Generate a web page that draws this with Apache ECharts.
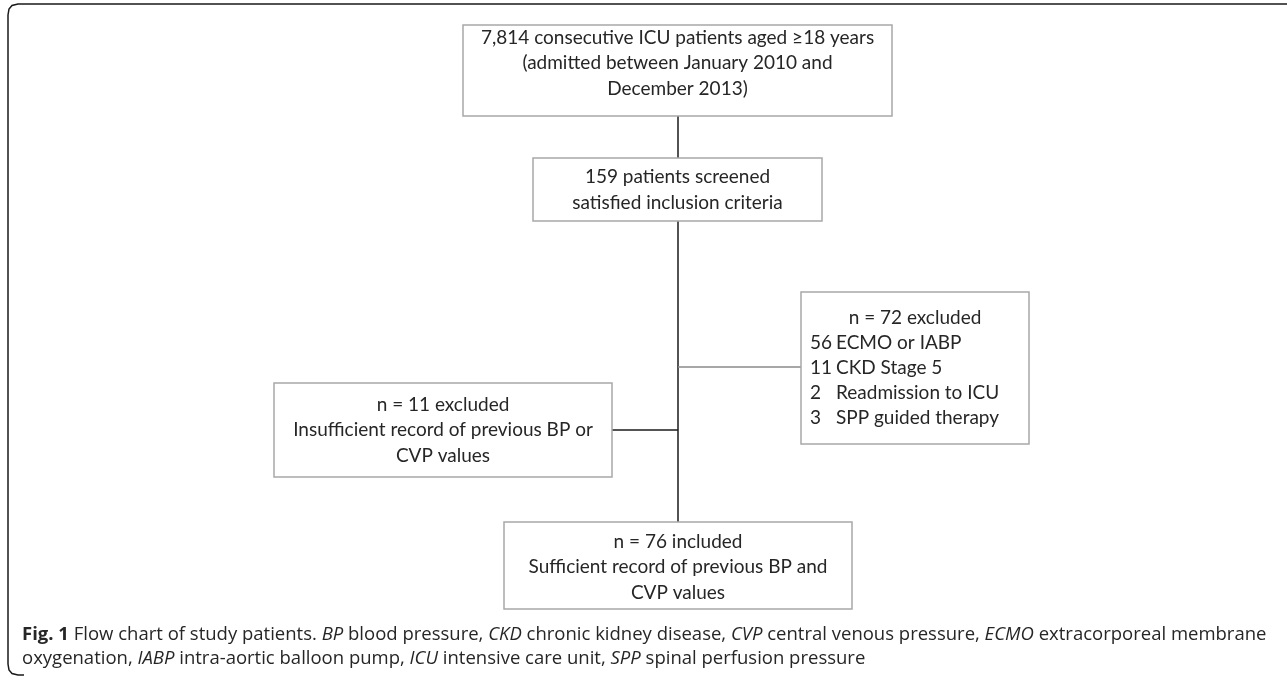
<!DOCTYPE html>
<html>
<head>
<meta charset="utf-8">
<script src="https://cdn.jsdelivr.net/npm/echarts@6/dist/echarts.min.js"></script>
<style>
  html, body { margin: 0; padding: 0; background: #fff; }
  #main { width: 1287px; height: 680px; }
</style>
</head>
<body>
<div id="main"></div>
<script>
  // box texts, top to bottom
  const screenedText = ['7,814 consecutive ICU patients aged \u226518 years', '(admitted between January 2010 and', 'December 2013)']
  const eligibleText = ['159 patients screened', 'satisfied inclusion criteria']
  const leftExcludedText = ['n = 11 excluded', 'Insufficient record of previous BP or', 'CVP values']
  const rightExcludedTitle = 'n = 72 excluded'
  const exclusionCounts = [56, 11, 2, 3]
  const exclusionReasons = ['ECMO or IABP', 'CKD Stage 5', 'Readmission to ICU', 'SPP guided therapy']
  const includedText = ['n = 76 included', 'Sufficient record of previous BP and', 'CVP values']
  const captionLine1 = '{b|Fig. 1} Flow chart of study patients. {i|BP} blood pressure, {i|CKD} chronic kidney disease, {i|CVP} central venous pressure, {i|ECMO} extracorporeal membrane'
  const captionLine2 = 'oxygenation, {i|IABP} intra-aortic balloon pump, {i|ICU} intensive care unit, {i|SPP} spinal perfusion pressure'

  const boxFont = '19px Lato, sans-serif'
  const textColor = '#262626'
  const lineH = 25.5

  const elements = []

  function box(x, y, w, h) {
    elements.push({
      type: 'rect',
      shape: { x: x, y: y, width: w, height: h },
      style: { fill: '#fff', stroke: '#a8a8a8', lineWidth: 1.5 },
      z: 2
    })
  }
  function line(x1, y1, x2, y2, color) {
    elements.push({
      type: 'line',
      shape: { x1: x1, y1: y1, x2: x2, y2: y2 },
      style: { stroke: color || '#1a1a1a', lineWidth: 1.5 },
      z: 1
    })
  }
  function centeredLines(lines, cx, cy) {
    const top = cy - (lines.length - 1) * lineH / 2
    lines.forEach((t, i) => {
      elements.push({
        type: 'text',
        style: { text: t, x: cx, y: top + i * lineH, font: boxFont, fill: textColor, align: 'center', verticalAlign: 'middle' },
        z: 3
      })
    })
  }

  // connectors
  line(678, 116, 678, 522)
  line(612, 430, 678, 430)
  line(678, 367, 801, 367, '#8a8a8a')

  // boxes
  box(463, 25, 429, 91)
  centeredLines(screenedText, 677.5, 63)

  box(533, 158, 289, 63)
  centeredLines(eligibleText, 677.5, 190)

  box(274, 383, 338, 94)
  centeredLines(leftExcludedText, 443, 430)

  box(801, 292, 228, 152)
  elements.push({
    type: 'text',
    style: { text: rightExcludedTitle, x: 915, y: 318, font: boxFont, fill: textColor, align: 'center', verticalAlign: 'middle' },
    z: 3
  })
  exclusionCounts.forEach((n, i) => {
    elements.push({
      type: 'text',
      style: { text: String(n), x: 810, y: 343 + i * 25, font: boxFont, fill: textColor, align: 'left', verticalAlign: 'middle' },
      z: 3
    })
    elements.push({
      type: 'text',
      style: { text: exclusionReasons[i], x: 836, y: 343 + i * 25, font: boxFont, fill: textColor, align: 'left', verticalAlign: 'middle' },
      z: 3
    })
  })

  box(504, 522, 348, 87)
  centeredLines(includedText, 678, 567)

  // outer frame (top and left edge with rounded corners)
  elements.push({
    type: 'polyline',
    shape: { points: [[1287, 4], [18, 4], [12, 5.5], [9, 9], [8, 15], [8, 664], [9, 670], [12, 673.5], [18, 675], [24, 675]] },
    style: { stroke: '#1a1a1a', lineWidth: 1.5, fill: null },
    z: 1
  })

  // caption
  const capSize = 18.5
  const rich = {
    b: { fontFamily: 'Open Sans', fontWeight: 'bold', fontSize: capSize, fill: textColor },
    i: { fontFamily: 'Open Sans', fontStyle: 'italic', fontSize: capSize, fill: textColor }
  }
  ;[captionLine1, captionLine2].forEach((t, i) => {
    elements.push({
      type: 'text',
      style: { text: t, x: 22, y: 635 + i * 24, fontFamily: 'Open Sans', fontSize: capSize, fill: textColor, align: 'left', verticalAlign: 'middle', rich: rich },
      z: 3
    })
  })

  const myChart = echarts.init(document.getElementById('main'))
  myChart.setOption({
    backgroundColor: '#fff',
    animation: false,
    graphic: { elements: elements }
  })
</script>
</body>
</html>
